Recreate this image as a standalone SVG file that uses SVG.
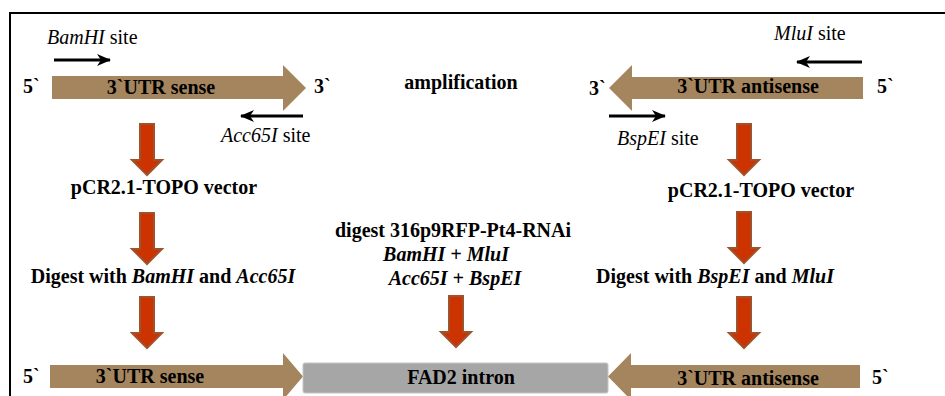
<svg xmlns="http://www.w3.org/2000/svg" width="945" height="396" viewBox="0 0 945 396">
<style>
.t{font-family:'Liberation Serif';font-size:20px;fill:#000}
.b{font-weight:bold}
.c{text-anchor:middle}
.i{font-style:italic}
.tan{fill:#A5855E}
.red{fill:#CC3300;stroke:#A0522D;stroke-width:2}
.sm{stroke:#000;stroke-width:3;fill:none}
</style>
<defs>
<path id="redArrow" class="red" d="M-7,0 H7 V36 H15 L0,51 L-15,36 H-7 Z"/>
<marker id="ah" viewBox="0 0 14 12" refX="13" refY="6" markerWidth="14" markerHeight="12" markerUnits="userSpaceOnUse" orient="auto">
<path d="M0,0 L14,6 L0,12 L4,6 Z" fill="#000"/>
</marker>
</defs>
<rect x="10" y="13" width="960" height="400" fill="none" stroke="#000" stroke-width="2"/>

<g id="sense-top">
<path class="tan" d="M52,76 H283 V65 L306,88 L283,111 V99 H52 Z"/>
<text class="t b c" x="161" y="94" font-family="Liberation Serif">3`UTR sense</text>
<text class="t b" x="23" y="93" font-family="Liberation Serif">5`</text>
<text class="t b" x="314" y="93" font-family="Liberation Serif">3`</text>
</g>
<g id="bamhi-site">
<text class="t" x="47" y="44" font-family="Liberation Serif"><tspan class="i">BamHI</tspan> site</text>
</g>
<g id="acc65i-site">
<text class="t" x="221" y="142" font-family="Liberation Serif"><tspan class="i">Acc65I</tspan> site</text>
</g>
<g id="amplification">
<text class="t b c" x="461" y="89" font-family="Liberation Serif">amplification</text>
</g>
<g id="antisense-top">
<path class="tan" d="M863,77 H632 V65 L609,88 L632,111 V99 H863 Z"/>
<text class="t b c" x="748" y="93" font-family="Liberation Serif">3`UTR antisense</text>
<text class="t b" x="589" y="95" font-family="Liberation Serif">3`</text>
<text class="t b" x="877" y="93" font-family="Liberation Serif">5`</text>
</g>
<g id="mlui-site">
<text class="t" x="774" y="40" font-family="Liberation Serif"><tspan class="i">MluI</tspan> site</text>
</g>
<g id="bspei-site">
<text class="t" x="617" y="145" font-family="Liberation Serif"><tspan class="i">BspEI</tspan> site</text>
</g>
<g id="topo-left">
<text class="t b c" x="164" y="194" font-family="Liberation Serif">pCR2.1-TOPO vector</text>
</g>
<g id="digest-left">
<text class="t b c" x="163" y="283" font-family="Liberation Serif">Digest with <tspan class="i">BamHI</tspan> and <tspan class="i">Acc65I</tspan></text>
</g>
<g id="topo-right">
<text class="t b c" x="761" y="197" font-family="Liberation Serif">pCR2.1-TOPO vector</text>
</g>
<g id="digest-right">
<text class="t b c" x="715" y="283" font-family="Liberation Serif">Digest with <tspan class="i">BspEI</tspan> and <tspan class="i">MluI</tspan></text>
</g>
<g id="digest-center">
<text class="t b c" x="453" y="237" font-family="Liberation Serif">digest 316p9RFP-Pt4-RNAi</text>
<text class="t b c i" x="446" y="261" font-family="Liberation Serif">BamHI + MluI</text>
<text class="t b c i" x="455" y="285" font-family="Liberation Serif">Acc65I + BspEI</text>
</g>
<g id="sense-bottom">
<path class="tan" d="M50,365 H283 V353 L303,376.5 L283,400 V388 H50 Z"/>
<text class="t b c" x="150" y="383" font-family="Liberation Serif">3`UTR sense</text>
<text class="t b" x="23" y="383" font-family="Liberation Serif">5`</text>
</g>
<g id="fad2-intron">
<rect x="303" y="363" width="305" height="30" rx="2" fill="#A6A6A6" stroke="#C4C4C4" stroke-width="1"/>
<text class="t b c" x="461" y="384" font-family="Liberation Serif">FAD2 intron</text>
</g>
<g id="antisense-bottom">
<path class="tan" d="M860,365 H631 V353 L608,376.5 L631,400 V388 H860 Z"/>
<text class="t b c" x="748" y="385" font-family="Liberation Serif">3`UTR antisense</text>
<text class="t b" x="872" y="384" font-family="Liberation Serif">5`</text>
</g>

<g id="connectors">
<line class="sm" x1="54" y1="60" x2="110" y2="60" marker-end="url(#ah)"/>
<line class="sm" x1="303" y1="116" x2="241" y2="116" marker-end="url(#ah)"/>
<line class="sm" x1="862" y1="62" x2="797" y2="62" marker-end="url(#ah)"/>
<line class="sm" x1="609" y1="116" x2="665" y2="116" marker-end="url(#ah)"/>
<use href="#redArrow" x="147" y="124"/>
<use href="#redArrow" x="147" y="213"/>
<use href="#redArrow" x="147" y="297"/>
<use href="#redArrow" x="744" y="124"/>
<use href="#redArrow" x="744" y="212"/>
<use href="#redArrow" x="744" y="297"/>
<use href="#redArrow" x="456" y="296"/>
</g>
</svg>
